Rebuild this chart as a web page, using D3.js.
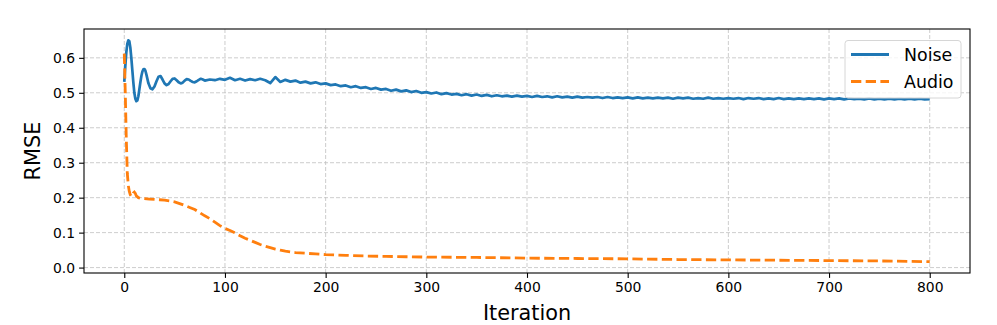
<!DOCTYPE html>
<html>
<head>
<meta charset="utf-8">
<script src="https://cdn.jsdelivr.net/npm/d3@7/dist/d3.min.js"></script>
<style>
  html, body { margin: 0; padding: 0; background: #fff; }
  svg { display: block; font-family: "DejaVu Sans", sans-serif; }
</style>
</head>
<body>
<svg id="chart" width="997" height="325"></svg>
<script>
// ---- data ----
const xTicks = [0, 100, 200, 300, 400, 500, 600, 700, 800];
const yTicks = [0.0, 0.1, 0.2, 0.3, 0.4, 0.5, 0.6];
const seriesNames = ["Noise", "Audio"];

const noiseIter = [0,1,2,3,4,5,6,7,8,9,10,11,12,13,14,15,16,17,18,19,20,21,22,24,26,28,30,32,34,36,38,40,42,44,46,48,50,52,54,56,58,60,62,64,66,68,70,72,74,76,78,80,
  85,90,95,100,105,110,115,120,125,130,135,140,145,150,155,160,165,170,175,180,185,190,195,200,
  205,210,215,220,225,230,235,240,245,250,255,260,265,270,275,280,285,290,295,300,
  305,310,315,320,325,330,335,340,345,350,355,360,365,370,375,380,385,390,395,400,
  405,410,415,420,425,430,435,440,445,450,455,460,465,470,475,480,485,490,495,500,
  505,510,515,520,525,530,535,540,545,550,555,560,565,570,575,580,585,590,595,600,
  605,610,615,620,625,630,635,640,645,650,655,660,665,670,675,680,685,690,695,700,
  705,710,715,720,725,730,735,740,745,750,755,760,765,770,775,780,785,790,795,800];
const noiseVal = [0.531,0.575,0.615,0.640,0.650,0.648,0.630,0.600,0.565,0.530,0.500,0.483,0.476,0.478,0.490,0.510,0.530,0.548,0.561,0.567,0.568,0.563,0.552,0.527,0.513,0.510,0.518,0.533,0.546,0.548,0.538,0.527,0.522,0.525,0.533,0.540,0.541,0.536,0.530,0.527,0.529,0.535,0.539,0.538,0.534,0.531,0.530,0.533,0.537,0.540,0.538,0.535,
  0.538,0.536,0.540,0.537,0.543,0.536,0.540,0.535,0.539,0.536,0.540,0.536,0.528,0.545,0.531,0.537,0.532,0.535,0.529,0.532,0.527,0.530,0.525,0.527,
  0.522,0.524,0.519,0.521,0.516,0.519,0.514,0.516,0.511,0.514,0.509,0.511,0.506,0.509,0.504,0.507,0.502,0.505,0.500,0.502,
  0.498,0.501,0.496,0.499,0.495,0.497,0.493,0.496,0.492,0.495,0.491,0.494,0.490,0.493,0.490,0.492,0.489,0.492,0.489,0.491,
  0.488,0.491,0.488,0.490,0.487,0.490,0.487,0.489,0.486,0.489,0.486,0.488,0.486,0.488,0.485,0.488,0.485,0.487,0.485,0.487,
  0.484,0.487,0.484,0.486,0.484,0.486,0.484,0.486,0.483,0.486,0.484,0.486,0.483,0.485,0.483,0.486,0.483,0.485,0.483,0.485,
  0.483,0.485,0.482,0.485,0.483,0.485,0.482,0.484,0.482,0.485,0.482,0.484,0.482,0.484,0.482,0.484,0.482,0.484,0.481,0.484,
  0.482,0.484,0.481,0.484,0.482,0.483,0.481,0.484,0.481,0.483,0.481,0.483,0.481,0.483,0.481,0.483,0.481,0.483,0.481,0.482];

const audioIter = [0,1,2,3,4,5,6,7,8,9,10,11,12,14,16,20,25,30,35,40,45,50,55,60,65,70,75,80,85,90,95,100,105,110,115,120,125,130,135,140,145,150,155,160,170,180,190,200,220,240,260,280,300,350,400,450,500,550,600,650,700,750,800];
const audioVal = [0.612,0.50,0.37,0.27,0.235,0.218,0.208,0.204,0.206,0.213,0.216,0.212,0.205,0.200,0.198,0.197,0.196,0.195,0.194,0.193,0.191,0.188,0.183,0.178,0.172,0.166,0.157,0.148,0.140,0.130,0.120,0.112,0.106,0.099,0.091,0.084,0.078,0.072,0.066,0.061,0.057,0.053,0.050,0.047,0.043,0.041,0.039,0.037,0.035,0.033,0.032,0.031,0.030,0.029,0.027,0.026,0.025,0.023,0.022,0.021,0.020,0.019,0.017];

// ---- layout ----
const L = 84, R = 970, T = 29, B = 273;
const svg = d3.select("#chart");
const x = d3.scaleLinear().domain([-40, 840]).range([L, R]);
const y = d3.scaleLinear().domain([-0.0155, 0.6825]).range([B, T]);

const blue = "#1f77b4", orange = "#ff7f0e";

// grid
const grid = svg.append("g");
xTicks.forEach(t => grid.append("line")
  .attr("x1", x(t)).attr("x2", x(t)).attr("y1", T).attr("y2", B)
  .attr("stroke", "#c0c0c0").attr("stroke-width", 0.8).attr("stroke-dasharray", "4,2"));
yTicks.forEach(t => grid.append("line")
  .attr("x1", L).attr("x2", R).attr("y1", y(t)).attr("y2", y(t))
  .attr("stroke", "#c0c0c0").attr("stroke-width", 0.8).attr("stroke-dasharray", "4,2"));

// clip
svg.append("clipPath").attr("id", "clip").append("rect")
  .attr("x", L).attr("y", T).attr("width", R - L).attr("height", B - T);

const line = d3.line().x(d => x(d[0])).y(d => y(d[1]));
const noise = noiseIter.map((v, i) => [v, noiseVal[i]]);
const audio = audioIter.map((v, i) => [v, audioVal[i]]);

const plot = svg.append("g").attr("clip-path", "url(#clip)");
plot.append("path").attr("d", line(noise)).attr("fill", "none")
  .attr("stroke", blue).attr("stroke-width", 2.7).attr("stroke-linejoin", "round");
plot.append("path").attr("d", line(audio)).attr("fill", "none")
  .attr("stroke", orange).attr("stroke-width", 2.8).attr("stroke-dasharray", "10.3,4.4");

// axes
const xAxis = d3.axisBottom(x).tickValues(xTicks).tickFormat(d3.format("d")).tickSize(4.9).tickPadding(4);
const yAxis = d3.axisLeft(y).tickValues(yTicks).tickFormat(d3.format(".1f")).tickSize(4.9).tickPadding(4);
const gx = svg.append("g").attr("transform", `translate(0,${B})`).call(xAxis);
const gy = svg.append("g").attr("transform", `translate(${L},0)`).call(yAxis);
[gx, gy].forEach(g => {
  g.select(".domain").remove();
  g.selectAll(".tick line").attr("stroke", "#000").attr("stroke-width", 1.1);
  g.selectAll(".tick text").attr("fill", "#000").style("font-size", "13.9px").style("font-family", "DejaVu Sans");
});

// frame
svg.append("rect").attr("x", L).attr("y", T).attr("width", R - L).attr("height", B - T)
  .attr("fill", "none").attr("stroke", "#000").attr("stroke-width", 1.1);

// axis labels
svg.append("text").attr("x", (L + R) / 2).attr("y", 320).attr("text-anchor", "middle")
  .style("font-size", "20.8px").text("Iteration");
svg.append("text").attr("transform", `translate(40,${(T + B) / 2}) rotate(-90)`).attr("text-anchor", "middle")
  .style("font-size", "20.8px").text("RMSE");

// legend
const lg = svg.append("g");
lg.append("rect").attr("x", 845).attr("y", 40.5).attr("width", 116).attr("height", 57.5)
  .attr("rx", 3).attr("fill", "#fff").attr("fill-opacity", 0.8)
  .attr("stroke", "#d6d6d6").attr("stroke-width", 1);
const legendRows = [{ name: seriesNames[0], color: blue, dash: null, yy: 54.5 },
                    { name: seriesNames[1], color: orange, dash: "10.3,4.4", yy: 81.5 }];
legendRows.forEach(r => {
  lg.append("line").attr("x1", 851).attr("x2", 889).attr("y1", r.yy).attr("y2", r.yy)
    .attr("stroke", r.color).attr("stroke-width", 2.8).attr("stroke-dasharray", r.dash);
  lg.append("text").attr("x", 904).attr("y", r.yy + 6.2).style("font-size", "17.4px").text(r.name);
});
</script>
</body>
</html>
